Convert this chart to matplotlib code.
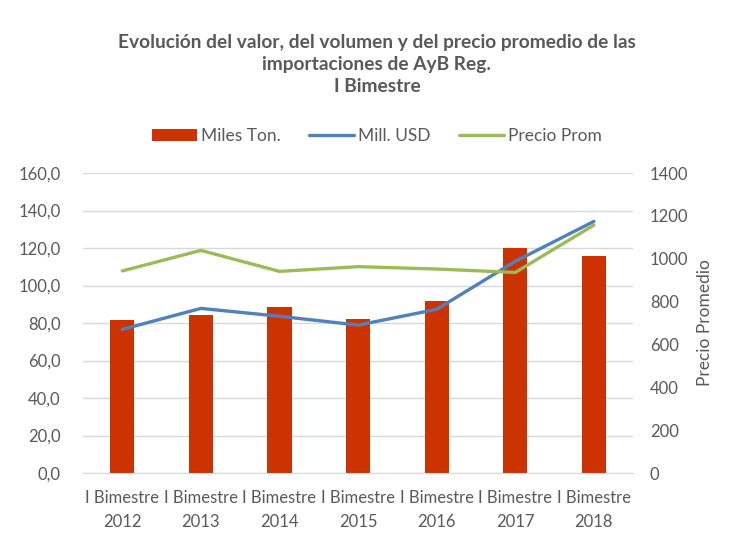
import numpy as np
import matplotlib.pyplot as plt

years = ["2012", "2013", "2014", "2015", "2016", "2017", "2018"]
miles_ton = [81.4, 84.4, 88.7, 82.0, 91.7, 120.2, 115.9]
mill_usd = [76.6, 87.8, 83.6, 78.9, 87.3, 112.9, 134.2]
precio_prom = [943, 1039, 941, 963, 952, 936, 1157]

labels = [f"I Bimestre\n{y}" for y in years]
gray = "#595959"

plt.rcParams['font.family'] = ['Lato', 'DejaVu Sans']

fig = plt.figure(figsize=(7.32, 5.39), dpi=100)
ax = fig.add_axes([0.1134, 0.1224, 0.7516, 0.5566])
ax2 = ax.twinx()

x = np.arange(len(years))
b = ax.bar(x, miles_ton, width=0.31, color="#CC3300", label="Miles Ton.", zorder=2)
l1, = ax.plot(x, mill_usd, color="#4F81BD", lw=2.4, label="Mill. USD", zorder=3,
              solid_capstyle="round")
l2, = ax2.plot(x, precio_prom, color="#9BBB59", lw=2.4, label="Precio Prom", zorder=3,
               solid_capstyle="round")

ax.set_xlim(-0.5, 6.5)
ax.set_ylim(0, 160)
ax.set_yticks(np.arange(0, 161, 20))
ax.set_yticklabels([f"{v:.1f}".replace(".", ",") for v in np.arange(0, 161, 20)])
ax2.set_ylim(0, 1400)
ax2.set_yticks(np.arange(0, 1401, 200))

ax.set_xticks(x)
ax.set_xticklabels(labels, linespacing=1.65)

ax.grid(axis="y", color="#D9D9D9", lw=1, zorder=0)
ax.set_axisbelow(True)
for a in (ax, ax2):
    for s in a.spines.values():
        s.set_visible(False)
    a.tick_params(length=0, colors=gray, labelsize=12)
ax.spines["bottom"].set_visible(True)
ax.spines["bottom"].set_color("#D9D9D9")
ax.tick_params(axis="y", pad=16)
ax.tick_params(axis="x", pad=12)
ax2.tick_params(axis="y", pad=12)

ax2.set_ylabel("Precio Promedio", color=gray, fontsize=12.5, labelpad=6)

fig.text(0.515, 0.937, "Evolución del valor, del volumen y del precio promedio de las\n"
         "importaciones de AyB Reg.\nI Bimestre", ha="center", va="top",
         fontsize=13.8, fontweight="bold", color=gray, linespacing=1.36)

fig.legend([b, l1, l2], ["Miles Ton.", "Mill. USD", "Precio Prom"],
           loc="center", bbox_to_anchor=(0.515, 0.748), ncol=3, frameon=False,
           fontsize=12.5, labelcolor=gray, handlelength=2.6, columnspacing=1.6,
           handletextpad=0.25)

plt.savefig("out.png", dpi=100)
